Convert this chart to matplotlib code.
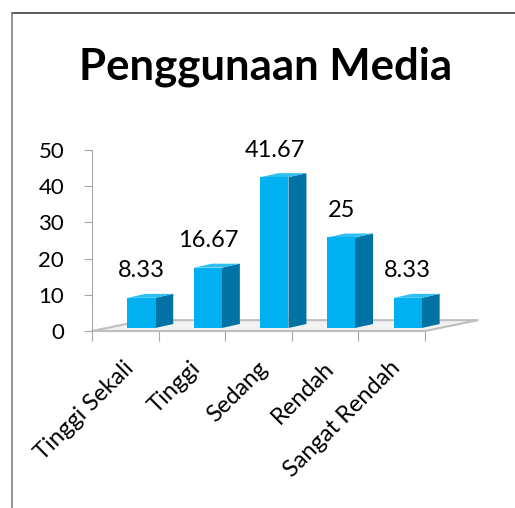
import numpy as np
import matplotlib
matplotlib.use("Agg")
import matplotlib.pyplot as plt
import matplotlib.transforms as mtransforms
from matplotlib.patches import Polygon
from matplotlib.lines import Line2D

categories = ["Tinggi Sekali", "Tinggi", "Sedang", "Rendah", "Sangat Rendah"]
values = [8.33, 16.67, 41.67, 25, 8.33]
value_labels = ["8.33", "16.67", "41.67", "25", "8.33"]
yticks = [0, 10, 20, 30, 40, 50]

plt.rcParams['font.family'] = ['Lato', 'DejaVu Sans']

front_c = '#00B0F0'
side_c = '#0072A3'
top_c = '#2EC0F4'
grey = '#A6A6A6'

fig = plt.figure(figsize=(5.15, 5.08), dpi=100)
# outer chart border (top and left visible)
fig.add_artist(Line2D([12/515, 1], [1-13/508, 1-13/508], color='#404040', lw=1.2))
fig.add_artist(Line2D([12/515, 12/515], [0, 1-13/508], color='#808080', lw=1.2))

fig.text(266/515, 1-80/508, "Penggunaan Media", ha='center', va='baseline',
         fontsize=31.5, fontweight='bold')

ax = fig.add_axes([92/515, 1-331/508, 333/515, 181/508])
ax.set_xlim(-0.5, 4.5)
ax.set_ylim(0, 50)
for s in ['top', 'right', 'bottom']:
    ax.spines[s].set_visible(False)
ax.spines['left'].set_color(grey)

# pseudo-3d offsets (data units)
fdx, fdy = 0.8, 3.0      # floor depth
bdx, bdy = 0.27, 1.1     # bar depth
xoff, base, w = 0.24, 0.83, 0.42

floor = Polygon([(-0.5, 0), (4.5, 0), (4.5 + fdx, fdy), (-0.5 + fdx, fdy)],
                closed=True, facecolor='#F2F2F2', edgecolor='#BFBFBF', lw=1.5,
                clip_on=False, zorder=1)
ax.add_patch(floor)

x = np.arange(len(categories))
for xi, v, lab in zip(x, values, value_labels):
    l = xi + xoff - w / 2
    r = xi + xoff + w / 2
    t = base + v
    ax.add_patch(Polygon([(r, base), (r + bdx, base + bdy), (r + bdx, t + bdy), (r, t)],
                         closed=True, facecolor=side_c, edgecolor='none', clip_on=False, zorder=3))
    ax.add_patch(Polygon([(l, t), (r, t), (r + bdx, t + bdy), (l + bdx, t + bdy)],
                         closed=True, facecolor=top_c, edgecolor='none', clip_on=False, zorder=3))
    ax.annotate(lab, (xi + xoff, t + bdy), xytext=(0, 9), textcoords='offset points',
                ha='center', va='bottom', fontsize=17)
ax.bar(x + xoff, values, width=w, bottom=base, color=front_c, zorder=4, clip_on=False)

ax.set_yticks(yticks)
ax.tick_params(axis='y', length=6, color=grey, labelsize=16, pad=14)
ax.set_xticks(np.arange(-0.5, 5, 1))
ax.set_xticklabels([])
ax.tick_params(axis='x', which='major', length=7, color=grey, direction='out')
ax.set_xticks(x, minor=True)
ax.set_xticklabels(categories, minor=True, rotation=45, ha='right',
                   rotation_mode='anchor', fontsize=17)
ax.tick_params(axis='x', which='minor', length=0, pad=19)
shift = mtransforms.ScaledTranslation(-2/100, 0, fig.dpi_scale_trans)
for t in ax.get_xticklabels(minor=True):
    t.set_transform(t.get_transform() + shift)
ax.axhline(0, color='#BFBFBF', lw=1.5, zorder=2, clip_on=False)

fig.savefig("out.png", dpi=100)
